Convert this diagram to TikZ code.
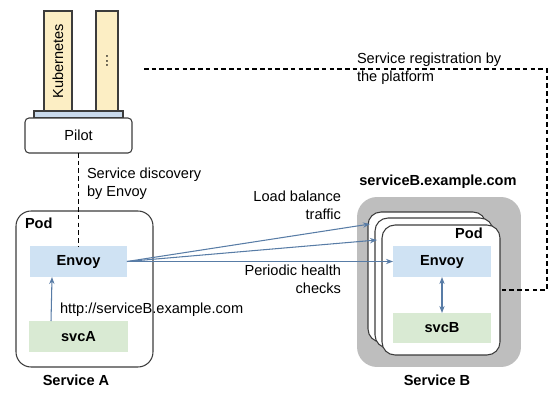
\documentclass[tikz,border=0pt]{standalone}
\usepackage{fontspec}
\setmainfont{Liberation Sans}
\usetikzlibrary{arrows.meta,calc}

\definecolor{baryellow}{RGB}{252,238,196}
\definecolor{stripblue}{RGB}{201,218,236}
\definecolor{envoyblue}{RGB}{207,226,243}
\definecolor{svcgreen}{RGB}{217,234,211}
\definecolor{meshgrey}{RGB}{190,190,190}
\definecolor{linkblue}{RGB}{88,124,166}
\definecolor{edgegrey}{RGB}{60,60,60}

\tikzset{
  box/.style={draw=edgegrey, line width=0.6pt, inner sep=0pt, outer sep=0pt},
  flatbox/.style={inner sep=0pt, outer sep=0pt},
  podbox/.style={box, fill=white, rounded corners=0.26cm},
  regline/.style={dashed, dash pattern=on 2.6pt off 1.8pt, line width=0.6pt},
  link/.style={->, linkblue, line width=0.6pt},
  note/.style={inner sep=0pt, outer sep=0pt},
}

\begin{document}
\begin{tikzpicture}[>={Stealth[length=4pt,width=3pt]}, x=0.02cm, y=-0.02cm,
    font=\fontsize{8.3}{10.2}\selectfont]
    \useasboundingbox (0,0) rectangle (554,405);

    % platform bars and Pilot
    \node[box, fill=baryellow, rotate=90, minimum width=2cm, minimum height=0.56cm]
        (kube) at (58,61) {Kubernetes};
    \node[box, fill=baryellow, rotate=90, minimum width=2cm, minimum height=0.44cm]
        (more) at (107,61) {...};
    \node[box, fill=stripblue, minimum width=1.78cm, minimum height=0.14cm]
        (strip) at (78.5,114.5) {};
    \node[box, fill=white, rounded corners=0.08cm, minimum width=2.14cm, minimum height=0.7cm]
        (pilot) at (78.5,135.5) {Pilot};

    % Service A
    \node[podbox, rounded corners=0.3cm, minimum width=2.74cm, minimum height=3.12cm]
        (podA) at (84.5,289) {};
    \node[note, font=\fontsize{8.3}{10.2}\selectfont\bfseries, anchor=west] (podAlabel) at (25,223) {Pod};
    \node[flatbox, fill=envoyblue, minimum width=1.94cm, minimum height=0.62cm,
        font=\fontsize{8.3}{10.2}\selectfont\bfseries] (envoyA) at (78.5,261.5) {Envoy};
    \node[flatbox, fill=svcgreen, minimum width=1.98cm, minimum height=0.62cm,
        font=\fontsize{8.3}{10.2}\selectfont\bfseries] (svcA) at (78.5,336.5) {svcA};
    \node[note, font=\fontsize{8.3}{10.2}\selectfont\bfseries] (svcAname) at (76,380) {Service A};

    % Service B
    \node[flatbox, fill=meshgrey, rounded corners=0.4cm, minimum width=3.28cm, minimum height=3.4cm]
        (meshB) at (439,282) {};
    \node[note, font=\fontsize{8.3}{10.2}\selectfont\bfseries] (hostB) at (438,182) {serviceB.example.com};
    \node[podbox, minimum width=2.36cm, minimum height=2.6cm] (podB1) at (427,277) {};
    \node[podbox, minimum width=2.36cm, minimum height=2.6cm] (podB2) at (434,283) {};
    \node[podbox, minimum width=2.36cm, minimum height=2.6cm] (podB3) at (441,290) {};
    \node[note, font=\fontsize{8.3}{10.2}\selectfont\bfseries] (podBlabel) at (469,233) {Pod};
    \node[flatbox, fill=envoyblue, minimum width=1.96cm, minimum height=0.62cm,
        font=\fontsize{8.3}{10.2}\selectfont\bfseries] (envoyB) at (442,261.5) {Envoy};
    \node[flatbox, fill=svcgreen, minimum width=1.96cm, minimum height=0.6cm,
        font=\fontsize{8.3}{10.2}\selectfont\bfseries] (svcB) at (442,328) {svcB};
    \node[note, font=\fontsize{8.3}{10.2}\selectfont\bfseries] (svcBname) at (437,380) {Service B};

    % discovery and registration
    \draw[regline] (pilot.south) -- (envoyA.north);
    \node[note, anchor=west, align=left] (disc) at (87,184) {Service discovery\\by Envoy};
    \coordinate (regstart) at (144,69);
    \coordinate (regcorner) at (547,69);
    \draw[regline] (regstart) -- (regcorner) |- (podB3.east);
    \node[note, anchor=west, align=left] (reg) at (357,69) {Service registration by\\the platform};

    % calls
    \draw[link] ($(svcA.north west)+(22,0)$) -- ($(envoyA.south west)+(22,0)$);
    \node[note, anchor=west] (url) at (60,310) {http://serviceB.example.com};
    \draw[link] (envoyA.east) -- ($(podB1.north west)+(2,12)$);
    \draw[link] (envoyA.east) -- ($(podB2.north west)+(2,22)$);
    \draw[link] (envoyA.east) -- (envoyB.west);
    \draw[link, <->] (envoyB.south) -- (svcB.north);
    \node[note, anchor=east, align=right] (lb) at (341,205) {Load balance\\traffic};
    \node[note, anchor=east, align=right] (hc) at (341,279) {Periodic health\\checks};
\end{tikzpicture}
\end{document}
